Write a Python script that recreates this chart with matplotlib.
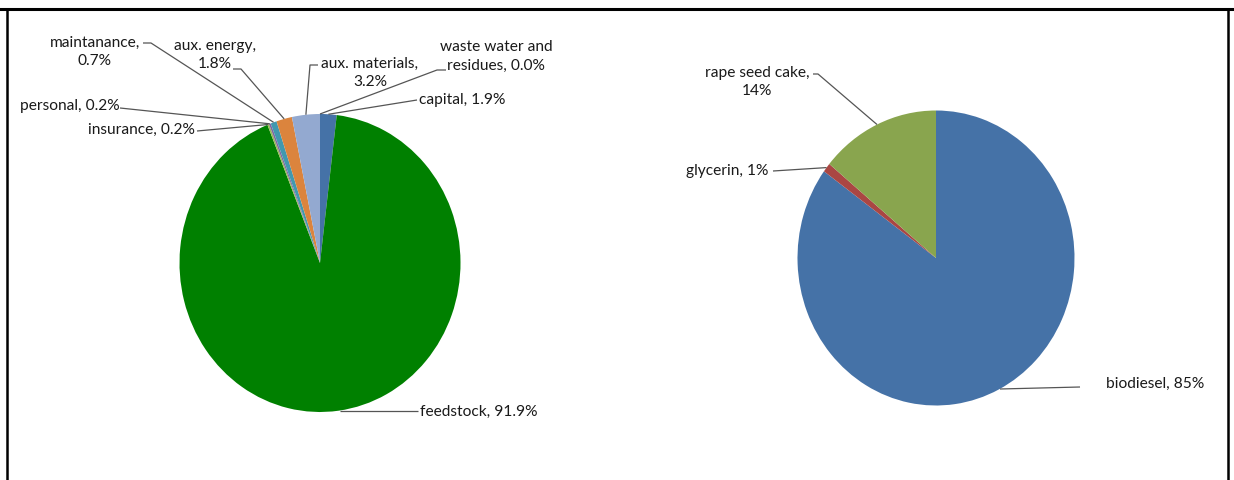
import numpy as np
import matplotlib
matplotlib.use('Agg')
import matplotlib.pyplot as plt

# ── data ─────────────────────────────────────────────────────────────────────
cost_labels = ['capital', 'feedstock', 'insurance', 'personal', 'maintanance',
               'aux. energy', 'aux. materials', 'waste water and\nresidues']
cost_values = [1.9, 91.9, 0.2, 0.2, 0.7, 1.8, 3.2, 0.0]
cost_colors = ['#4572a7', '#008000', '#9bbb59', '#8064a2', '#4198af',
               '#db843d', '#93a9d0', '#c0504d']

prod_labels = ['biodiesel', 'glycerin', 'rape seed cake']
prod_values = [85, 1, 14]
prod_colors = ['#4572a7', '#aa4643', '#89a54e']

W, H = 1234, 481
FONT = 'Lato'
FS = 11.2

fig = plt.figure(figsize=(W / 100, H / 100), dpi=100)

# overlay axes in pixel coordinates (y down)
ov = fig.add_axes([0, 0, 1, 1], zorder=5)
ov.set_xlim(0, W)
ov.set_ylim(H, 0)
ov.axis('off')
ov.patch.set_alpha(0)


def draw_pie(cx, cy, rx, ry, values, colors):
    ax = fig.add_axes([(cx - rx) / W, (H - cy - ry) / H, 2 * rx / W, 2 * ry / H])
    wedges, _ = ax.pie(values, colors=colors, startangle=90, counterclock=False,
                       radius=1, wedgeprops=dict(linewidth=0))
    ax.set_aspect('auto')
    ax.set_xlim(-1, 1)
    ax.set_ylim(-1, 1)
    ax.axis('off')
    return wedges


def anchor(w, cx, cy, rx, ry, frac=0.5):
    # point on the wedge outer edge (frac along its arc)
    a = np.deg2rad(w.theta1 + (w.theta2 - w.theta1) * frac)
    return cx + rx * np.cos(a), cy - ry * np.sin(a)


def label(text, tx, ty, pts, ha='left'):
    ov.text(tx, ty, text, ha=ha, va='center', fontsize=FS, family=FONT,
            color='#1a1a1a', linespacing=1.45)
    xs, ys = zip(*pts)
    ov.plot(xs, ys, color='#555555', lw=0.9, solid_capstyle='butt')


# left pie
lcx, lcy, lrx, lry = 320, 264, 140.5, 149
lw = draw_pie(lcx, lcy, lrx, lry, cost_values, cost_colors)
tops = [anchor(w, lcx, lcy, lrx, lry) for w in lw]

label('capital, 1.9%', 419, 100, [(417, 101), tops[0]])
label('feedstock, 91.9%', 420, 412, [(418, 412), (340, 412)])
label('insurance, 0.2%', 88, 130, [(197, 132), tops[2]])
label('personal, 0.2%', 20, 106, [(120, 109), tops[3]])
label('maintanance,\n0.7%', 95, 52, [(143, 44), (151, 44), tops[4]], ha='center')
label('aux. energy,\n1.8%', 215, 55, [(233, 70), (241, 70), tops[5]], ha='center')
label('aux. materials,\n3.2%', 370, 73, [(318, 66), (310, 66), tops[6]], ha='center')
label('waste water and\nresidues, 0.0%', 496, 56, [(446, 71), (437, 71), tops[7]],
      ha='center')

# right pie
rcx, rcy, rrx, rry = 936, 259, 138.5, 147.5
rw = draw_pie(rcx, rcy, rrx, rry, prod_values, prod_colors)
rt = [anchor(w, rcx, rcy, rrx, rry) for w in rw]

label('biodiesel, 85%', 1106, 384, [(1080, 388), (1000, 390)])
label('glycerin, 1%', 686, 171, [(773, 172), rt[1]])
label('rape seed cake,\n14%', 757, 82, [(813, 75), (818, 75), rt[2]], ha='center')

# frame
ov.plot([0, W], [10, 10], color='black', lw=2.2)
ov.plot([7, 7], [10, H], color='black', lw=1.8)
ov.plot([1228, 1228], [10, H], color='black', lw=1.8)

fig.savefig('out.png', dpi=100)
